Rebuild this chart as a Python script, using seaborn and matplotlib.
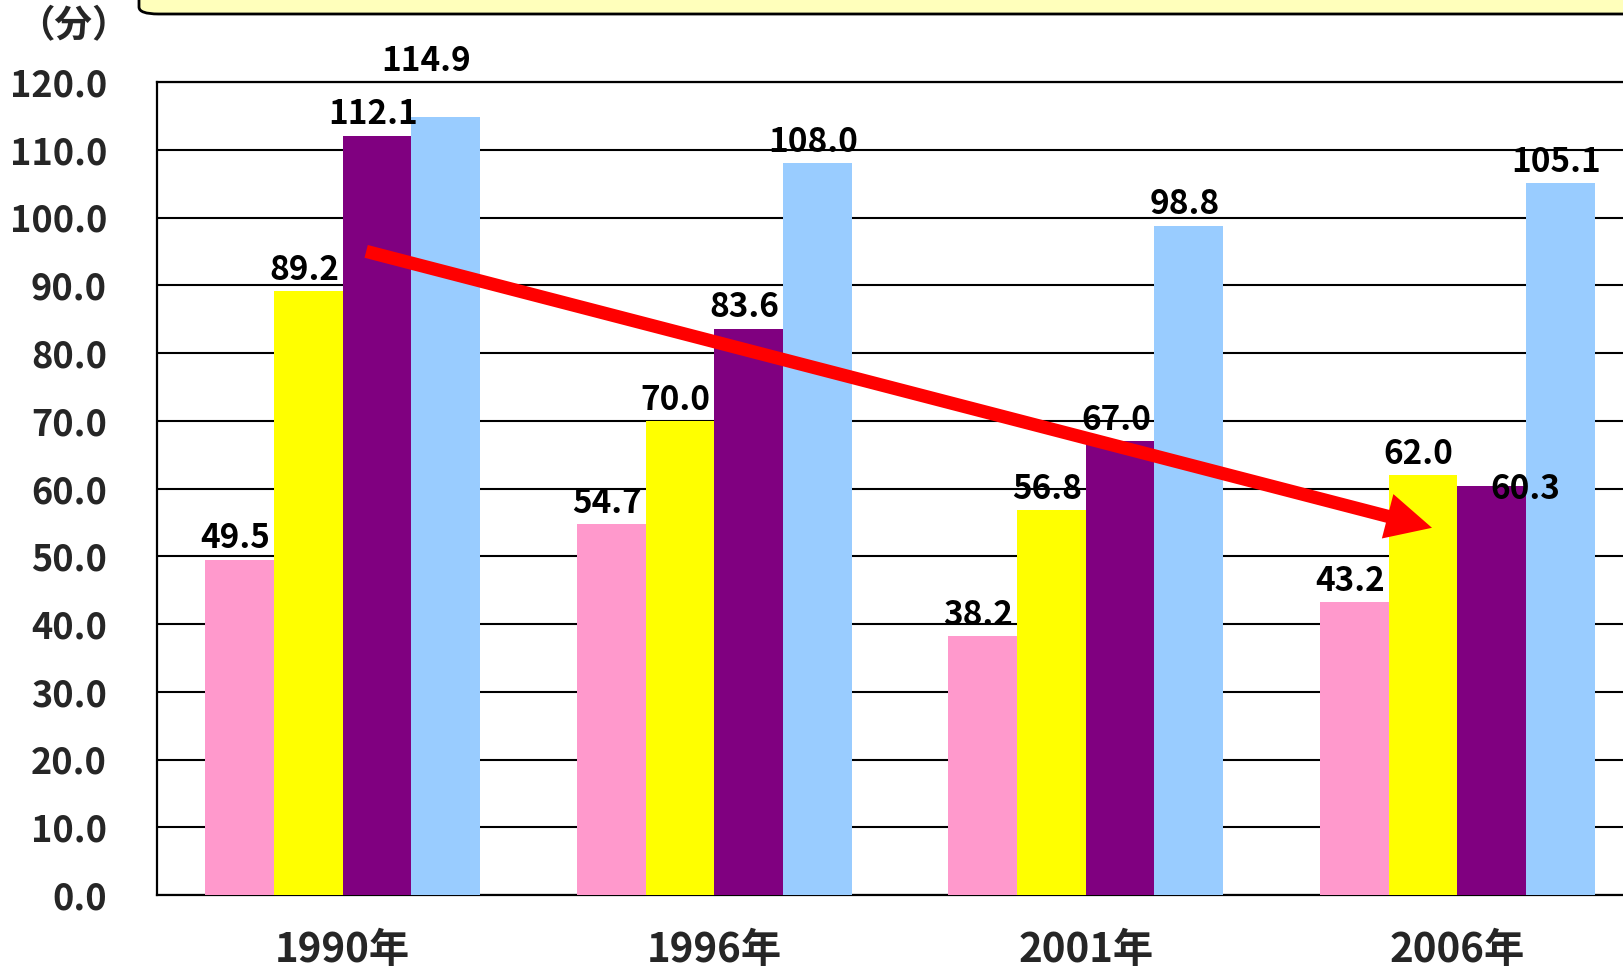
import numpy as np
import pandas as pd
import seaborn as sns
import matplotlib
matplotlib.use("Agg")
import matplotlib.pyplot as plt
from matplotlib.patches import FancyBboxPatch, FancyArrowPatch
from matplotlib.ticker import FixedLocator

# ---- data ----
years = ["1990年", "1996年", "2001年", "2006年"]
series = ["系列1", "系列2", "系列3", "系列4"]
pink_vals = [49.5, 54.7, 38.2, 43.2]
yellow_vals = [89.2, 70.0, 56.8, 62.0]
purple_vals = [112.1, 83.6, 67.0, 60.3]
blue_vals = [114.9, 108.0, 98.8, 105.1]
y_ticks = [0, 10, 20, 30, 40, 50, 60, 70, 80, 90, 100, 110, 120]
unit_label = "（分）"

colors = ["#FF99CC", "#FFFF00", "#800080", "#99CCFF"]

df = pd.DataFrame({
    "year": years * 4,
    "series": [s for s in series for _ in years],
    "value": pink_vals + yellow_vals + purple_vals + blue_vals,
})

sns.set_style("white")
plt.rcParams["font.family"] = ["Noto Sans CJK JP", "DejaVu Sans"]
plt.rcParams["font.weight"] = "bold"

W, H = 1624, 974
fig = plt.figure(figsize=(W / 100, H / 100), dpi=100)
fig.patch.set_facecolor("white")

left_px, bottom_px, top_px, cat_w = 157, 895, 82, 371.5
ax = fig.add_axes([left_px / W, (H - bottom_px) / H,
                   4 * cat_w / W, (bottom_px - top_px) / H])

sns.barplot(data=df, x="year", y="value", hue="series", order=years,
            hue_order=series, palette=colors, width=0.74, gap=0,
            saturation=1, linewidth=0, legend=False, ax=ax, zorder=3)

ax.set_ylim(0, 120)
ax.set_xlim(-0.5, 3.5)
ax.set_xlabel("")
ax.set_ylabel("")
ax.set_yticks(y_ticks)
ax.set_yticklabels([f"{v:.1f}" for v in y_ticks], fontsize=26,
                   fontweight="bold")
ax.set_xticks(range(len(years)))
ax.set_xticklabels(years, fontsize=29, fontweight="bold")
ax.tick_params(axis="y", length=0, pad=36)
ax.tick_params(axis="x", which="major", length=0, pad=25)
ax.xaxis.set_minor_locator(FixedLocator([0.5, 1.5, 2.5]))
ax.tick_params(axis="x", which="minor", direction="in", length=9.5,
               width=1.5, color="black")

ax.grid(axis="y", color="black", linewidth=1.5, zorder=1)
ax.grid(axis="x", visible=False)
ax.set_axisbelow(True)
for side in ["left", "bottom", "top"]:
    ax.spines[side].set_visible(True)
    ax.spines[side].set_color("black")
    ax.spines[side].set_linewidth(1.6)
ax.spines["right"].set_visible(False)

# value labels (label offsets: (category index, series index) -> dx, dy, va)
special = {(3, 2): (24, -2, "center"), (0, 3): (-14, 28, "bottom")}
for si, cont in enumerate(ax.containers):
    for ci, bar in enumerate(cont):
        h = bar.get_height()
        cx = bar.get_x() + bar.get_width() / 2
        dx, dy, va = special.get((ci, si), (-3, 3, "bottom"))
        ax.annotate(f"{h:.1f}", xy=(cx, h), xytext=(dx, dy),
                    textcoords="offset points", ha="center", va=va,
                    fontsize=24, fontweight="bold", color="black",
                    annotation_clip=False, clip_on=False, zorder=6)

# red trend arrow
arrow_start = (0.063, 95.0)
arrow_end = (2.932, 54.2)
arr = FancyArrowPatch(arrow_start, arrow_end,
                      arrowstyle="simple,head_length=3.3,head_width=3.3,tail_width=0.95",
                      mutation_scale=10, color="#FF0000", lw=0,
                      shrinkA=0, shrinkB=0, zorder=5)
ax.add_patch(arr)

# unit label
fig.text(73 / W, 1 - 26 / H, unit_label, ha="center", va="center",
         fontsize=27, fontweight="bold")

# top rounded box (title box, partially cut off)
box = FancyBboxPatch((139 / W, (H - 14) / H), 1700 / W, 80 / H,
                     boxstyle="round,pad=0,rounding_size=0.012",
                     transform=fig.transFigure, facecolor="#FFFFBB",
                     edgecolor="black", linewidth=2, mutation_aspect=H / W,
                     clip_on=False)
fig.patches.append(box)

fig.savefig("out.png", dpi=100)
